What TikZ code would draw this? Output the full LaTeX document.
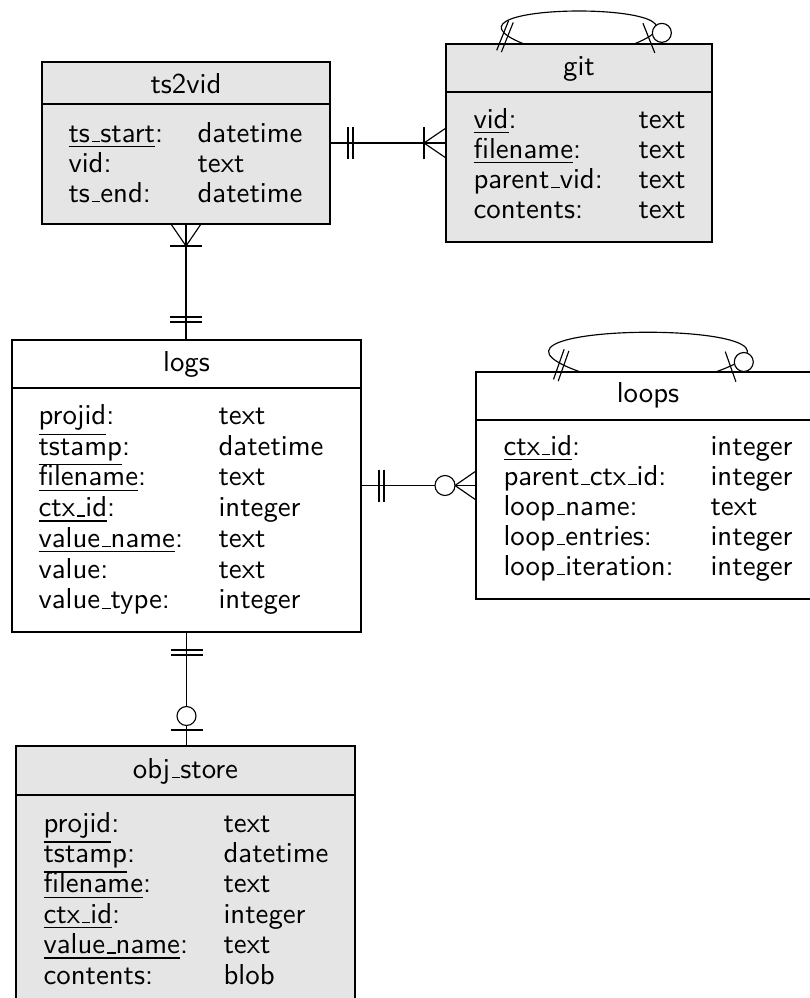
\documentclass[tikz,border=0pt]{standalone}
\usetikzlibrary{calc}
\newcommand{\us}{\leavevmode\kern.06em\vbox{\hrule width.3em height 0.4pt}}
\newcommand{\tblfont}{\fontsize{10}{12}\selectfont\sffamily}
\newcommand{\tblrow}[6]{\node[fld] (#1k) at (#2,#4) {#5};\node[fld] (#1v) at (#3,#4) {#6};}
\newcommand{\erdouble}[2]{%
  \foreach \dd in {18pt,23pt}{\draw[conn] ($($(#1)!\dd!(#2)$)!16pt!90:(#2)$) -- ($($(#1)!\dd!(#2)$)!16pt!-90:(#2)$);}}
\newcommand{\ercrow}[2]{%
  \draw[conn] ($($(#1)!22pt!(#2)$)!16pt!90:(#2)$) -- ($($(#1)!22pt!(#2)$)!16pt!-90:(#2)$);
  \draw[conn] ($(#1)!15pt!90:(#2)$) -- ($(#1)!22pt!(#2)$) -- ($(#1)!15pt!-90:(#2)$);}
\newcommand{\erzeroone}[2]{%
  \draw[conn] ($($(#1)!16pt!(#2)$)!16pt!90:(#2)$) -- ($($(#1)!16pt!(#2)$)!16pt!-90:(#2)$);
  \draw[conn,fill=white] ($(#1)!30pt!(#2)$) circle[radius=9.5pt];}
\newcommand{\erzeromany}[2]{%
  \draw[conn] ($(#1)!14.5pt!90:(#2)$) -- ($(#1)!21pt!(#2)$) -- ($(#1)!14.5pt!-90:(#2)$);
  \draw[conn,fill=white] ($(#1)!31pt!(#2)$) circle[radius=10pt];}
\tikzset{
  tbl/.style={draw, line width=1.15pt, inner sep=0pt, outer sep=0pt, rectangle},
  graybox/.style={tbl, fill=black!10},
  whitebox/.style={tbl, fill=white},
  ttl/.style={anchor=base, inner sep=0pt, font=\tblfont, scale=2.88, transform shape},
  fld/.style={anchor=base west, inner sep=0pt, font=\tblfont, scale=2.88, transform shape},
  conn/.style={line width=1.15pt},
}
\begin{document}
\begin{tikzpicture}[x=1pt,y=-1pt]
\useasboundingbox (0,0) rectangle (810,998);
\clip (0,0) rectangle (810,998);

% boxes
\node[graybox, minimum width=288pt, minimum height=162pt] (ts2vid) at (186,143) {};
\node[graybox, minimum width=266pt, minimum height=198pt] (git) at (579,143) {};
\node[whitebox, minimum width=349pt, minimum height=292pt] (logs) at (186.5,486) {};
\node[whitebox, minimum width=344pt, minimum height=227pt] (loops) at (648,485.5) {};
\node[graybox, minimum width=339pt, minimum height=264pt] (objstore) at (185.5,878) {};

% header separators
\draw[conn] ($(ts2vid.north west)+(0,42)$) -- ($(ts2vid.north east)+(0,42)$);
\draw[conn] ($(git.north west)+(0,48)$) -- ($(git.north east)+(0,48)$);
\draw[conn] ($(logs.north west)+(0,48)$) -- ($(logs.north east)+(0,48)$);
\draw[conn] ($(loops.north west)+(0,48)$) -- ($(loops.north east)+(0,48)$);
\draw[conn] ($(objstore.north west)+(0,49)$) -- ($(objstore.north east)+(0,49)$);

% titles
\node[ttl] (ts2vidT) at (186,93) {ts2vid};
\node[ttl] (gitT) at (579,75) {git};
\node[ttl] (logsT) at (186.5,371) {logs};
\node[ttl] (loopsT) at (648,402.5) {loops};
\node[ttl] (objstoreT) at (185.5,778) {obj\us store};

% fields
\tblrow{ts2vid-1}{68}{197}{142}{\underline{ts\us start}:}{datetime}
\tblrow{ts2vid-2}{68}{197}{172}{vid:}{text}
\tblrow{ts2vid-3}{68}{197}{202}{ts\us end:}{datetime}

\tblrow{git-1}{473}{638}{128}{\underline{vid}:}{text}
\tblrow{git-2}{473}{638}{158}{\underline{filename}:}{text}
\tblrow{git-3}{473}{638}{188}{parent\us vid:}{text}
\tblrow{git-4}{473}{638}{218}{contents:}{text}

\tblrow{logs-1}{38}{218}{424.5}{\underline{projid}:}{text}
\tblrow{logs-2}{38}{218}{455.2}{\underline{tstamp}:}{datetime}
\tblrow{logs-3}{38}{218}{485.9}{\underline{filename}:}{text}
\tblrow{logs-4}{38}{218}{516.6}{\underline{ctx\us id}:}{integer}
\tblrow{logs-5}{38}{218}{547.3}{\underline{value\us name}:}{text}
\tblrow{logs-6}{38}{218}{578}{value:}{text}
\tblrow{logs-7}{38}{218}{608.7}{value\us type:}{integer}

\tblrow{loops-1}{503}{710}{455}{\underline{ctx\us id}:}{integer}
\tblrow{loops-2}{503}{710}{485}{parent\us ctx\us id:}{integer}
\tblrow{loops-3}{503}{710}{515}{loop\us name:}{text}
\tblrow{loops-4}{503}{710}{545}{loop\us entries:}{integer}
\tblrow{loops-5}{503}{710}{575}{loop\us iteration:}{integer}

\tblrow{obj-1}{43}{223}{832}{\underline{projid}:}{text}
\tblrow{obj-2}{43}{223}{862.4}{\underline{tstamp}:}{datetime}
\tblrow{obj-3}{43}{223}{892.8}{\underline{filename}:}{text}
\tblrow{obj-4}{43}{223}{923.2}{\underline{ctx\us id}:}{integer}
\tblrow{obj-5}{43}{223}{953.6}{\underline{value\us name}:}{text}
\tblrow{obj-6}{43}{223}{984}{contents:}{blob}

% connectors
\coordinate (tvE) at (ts2vid.east);
\coordinate (gW) at (ts2vid.east -| git.west);
\draw[conn] (tvE) -- (gW);
\erdouble{tvE}{gW}
\ercrow{gW}{tvE}

\coordinate (tvS) at (ts2vid.south);
\coordinate (lN) at (ts2vid.south |- logs.north);
\draw[conn] (tvS) -- (lN);
\ercrow{tvS}{lN}
\erdouble{lN}{tvS}

\coordinate (lE) at (logs.east |- loops.west);
\coordinate (lpW) at (loops.west);
\draw[conn] (lE) -- (lpW);
\erdouble{lE}{lpW}
\erzeromany{lpW}{lE}

\coordinate (lS) at (logs.south);
\coordinate (oN) at (logs.south |- objstore.north);
\draw[conn] (lS) -- (oN);
\erdouble{lS}{oN}
\erzeroone{oN}{lS}

% git self loop
\coordinate (gA) at ($(git.north)+(-55,0)$);
\coordinate (gB) at ($(git.north)+(55,0)$);
\coordinate (gC1) at ($(gA)+(-110,-44)$);
\coordinate (gC2) at ($(gB)+(110,-44)$);
\draw[conn] (gA) .. controls (gC1) and (gC2) .. (gB);
\erdouble{gA}{gC1}
\erzeroone{gB}{gC2}

% loops self loop
\coordinate (pA) at ($(loops.north)+(-67.5,0)$);
\coordinate (pB) at ($(loops.north)+(67.5,0)$);
\coordinate (pC1) at ($(pA)+(-150,-53)$);
\coordinate (pC2) at ($(pB)+(150,-53)$);
\draw[conn] (pA) .. controls (pC1) and (pC2) .. (pB);
\erdouble{pA}{pC1}
\erzeroone{pB}{pC2}
\end{tikzpicture}
\end{document}
